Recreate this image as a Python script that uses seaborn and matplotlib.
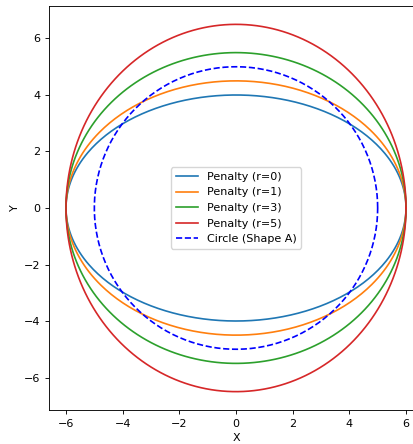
import numpy as np
import pandas as pd
import matplotlib
matplotlib.use("Agg")
import matplotlib.pyplot as plt
import seaborn as sns

labels = ["Penalty (r=0)", "Penalty (r=1)", "Penalty (r=3)", "Penalty (r=5)"]
semi_x = [6.0, 6.0, 6.0, 6.0]
semi_y = [4.0, 4.5, 5.5, 6.5]
colors = ["#1f77b4", "#ff7f0e", "#2ca02c", "#d62728"]
circle_radius = 5.0
circle_label = "Circle (Shape A)"

plt.rcParams.update({
    "font.size": 8,
    "xtick.major.size": 2.8,
    "ytick.major.size": 2.8,
    "xtick.major.width": 0.64,
    "ytick.major.width": 0.64,
    "axes.linewidth": 0.64,
})

t = np.linspace(0, 2 * np.pi, 400)

fig = plt.figure(figsize=(4.14, 4.44), dpi=100)
ax = fig.add_axes([49 / 414, 34 / 444, 374 / 414, 404 / 444])

for lab, a, b, c in zip(labels, semi_x, semi_y, colors):
    df = pd.DataFrame({"x": a * np.cos(t), "y": b * np.sin(t)})
    sns.lineplot(data=df, x="x", y="y", sort=False, estimator=None, color=c,
                 label=lab, ax=ax, linewidth=1.2)

dfc = pd.DataFrame({"x": circle_radius * np.cos(t), "y": circle_radius * np.sin(t)})
sns.lineplot(data=dfc, x="x", y="y", sort=False, estimator=None, color="blue",
             linestyle=(0, (3.7, 1.6)), label=circle_label, ax=ax, linewidth=1.2)

ax.set_xlim(-6.6, 6.6)
ax.set_ylim(-7.15, 7.15)
ax.set_xticks([-6, -4, -2, 0, 2, 4, 6])
ax.set_yticks([-6, -4, -2, 0, 2, 4, 6])
ax.set_xlabel("X", labelpad=3)
ax.set_ylabel("Y", labelpad=3)
ax.legend(loc="center")

fig.savefig("out.png", dpi=100)
